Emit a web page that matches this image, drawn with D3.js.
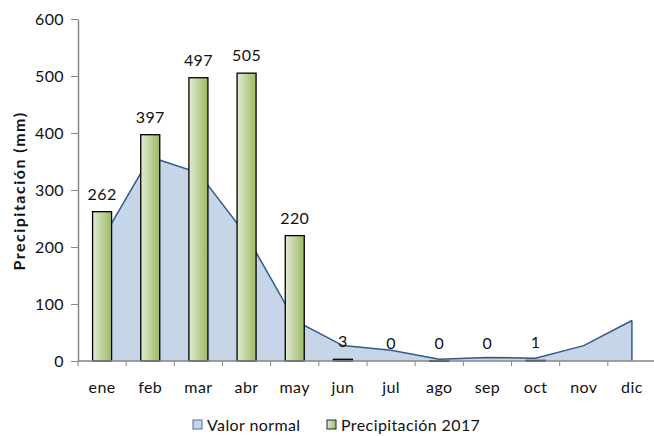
<!DOCTYPE html>
<html>
<head>
<meta charset="utf-8">
<script src="https://cdn.jsdelivr.net/npm/d3@7"></script>
<style>
  body { margin: 0; background: #fff; }
  svg text { font-family: Lato, "Open Sans", sans-serif; fill: #111; }
</style>
</head>
<body>
<div id="chart"></div>
<script>
// Data
const months = ["ene", "feb", "mar", "abr", "may", "jun", "jul", "ago", "sep", "oct", "nov", "dic"];
const normal = [213, 358, 330, 220, 71, 27, 19, 3, 6, 5, 27, 71];
const precip2017 = [262, 397, 497, 505, 220, 3, 0, 0.4, 0, 1, null, null];
const yTicks = [0, 100, 200, 300, 400, 500, 600];

const W = 654, H = 436;
const margin = { top: 19, right: 0, bottom: 75, left: 78 };

const svg = d3.select("#chart").append("svg")
    .attr("width", W)
    .attr("height", H);

const defs = svg.append("defs");
const grad = defs.append("linearGradient")
    .attr("id", "barGrad")
    .attr("x1", "0%").attr("x2", "100%")
    .attr("y1", "0%").attr("y2", "0%");
grad.append("stop").attr("offset", "0%").attr("stop-color", "#e2ebd4");
grad.append("stop").attr("offset", "100%").attr("stop-color", "#9cb964");

// Scales
const x = d3.scaleBand()
    .domain(months)
    .range([margin.left, 656])
    .padding(0);
const y = d3.scaleLinear()
    .domain([0, 600])
    .range([H - margin.bottom, margin.top]);

const cx = m => x(m) + x.bandwidth() / 2;
const barW = 19;
const fs = "16px";

// Normal values area
const area = d3.area()
    .x((d, i) => cx(months[i]))
    .y0(y(0))
    .y1(d => y(d));

svg.append("path")
    .datum(normal)
    .attr("d", area)
    .attr("fill", "#c6d6e8")
    .attr("stroke", "none");

const line = d3.line()
    .x((d, i) => cx(months[i]))
    .y(d => y(d));

svg.append("path")
    .datum(normal)
    .attr("d", line)
    .attr("fill", "none")
    .attr("stroke", "#31598c")
    .attr("stroke-width", 1.5);

// right edge of area
svg.append("line")
    .attr("x1", cx("dic")).attr("x2", cx("dic"))
    .attr("y1", y(normal[11])).attr("y2", y(0))
    .attr("stroke", "#31598c")
    .attr("stroke-width", 1.5);

// Bars
const barData = months.map((m, i) => ({ m, v: precip2017[i] })).filter(d => d.v !== null);

svg.selectAll(".bar")
    .data(barData.filter(d => d.v > 0))
    .enter().append("rect")
    .attr("class", "bar")
    .attr("x", d => cx(d.m) - barW / 2)
    .attr("y", d => y(d.v))
    .attr("width", barW)
    .attr("height", d => Math.max(0.6, y(0) - y(d.v)))
    .attr("fill", "url(#barGrad)")
    .attr("stroke", "#000")
    .attr("stroke-width", 1.3);

// Data labels
svg.selectAll(".lbl")
    .data(barData)
    .enter().append("text")
    .attr("class", "lbl")
    .attr("x", d => cx(d.m))
    .attr("y", d => y(d.v) - 12)
    .attr("text-anchor", "middle")
    .style("font-size", fs)
    .style("letter-spacing", "0.4px")
    .text(d => d3.format(".0f")(d.v));

// Axes
const axisColor = "#868686";
const xAxis = svg.append("g");
xAxis.append("line")
    .attr("x1", margin.left).attr("x2", W)
    .attr("y1", y(0)).attr("y2", y(0))
    .attr("stroke", axisColor).attr("stroke-width", 1.5);
xAxis.selectAll(".xt")
    .data(d3.range(months.length + 1))
    .enter().append("line")
    .attr("x1", i => margin.left + i * x.step())
    .attr("x2", i => margin.left + i * x.step())
    .attr("y1", y(0)).attr("y2", y(0) + 5)
    .attr("stroke", axisColor).attr("stroke-width", 1);
xAxis.selectAll(".xl")
    .data(months)
    .enter().append("text")
    .attr("x", d => cx(d))
    .attr("y", y(0) + 32)
    .attr("text-anchor", "middle")
    .style("font-size", fs)
    .style("letter-spacing", "0.4px")
    .text(d => d);

const yAxis = svg.append("g")
    .attr("transform", `translate(${margin.left},0)`)
    .call(d3.axisLeft(y).tickValues(yTicks).tickSize(7).tickPadding(7).tickSizeOuter(0));
yAxis.select(".domain").attr("stroke", axisColor).attr("stroke-width", 1.5);
yAxis.selectAll(".tick line").attr("stroke", axisColor);
yAxis.selectAll(".tick text")
    .style("font-size", fs)
    .style("letter-spacing", "0.4px")
    .style("font-family", "Lato, 'Open Sans', sans-serif")
    .attr("fill", "#111");

svg.append("text")
    .attr("transform", `translate(25, 191) rotate(-90)`)
    .attr("text-anchor", "middle")
    .style("font-size", "16px")
    .style("font-weight", "bold")
    .style("letter-spacing", "1.5px")
    .text("Precipitación (mm)");

// Legend
const legendData = [
    { label: "Valor normal", fill: "#c6d6e8", stroke: "#4a6fa0", x: 193 },
    { label: "Precipitación 2017", fill: "url(#barGrad)", stroke: "#222", x: 327 }
];
const legend = svg.append("g").attr("class", "legend");
legend.selectAll("rect")
    .data(legendData)
    .enter().append("rect")
    .attr("x", d => d.x)
    .attr("y", 420)
    .attr("width", 9)
    .attr("height", 9)
    .attr("fill", d => d.fill)
    .attr("stroke", d => d.stroke)
    .attr("stroke-width", 1);
legend.selectAll("text")
    .data(legendData)
    .enter().append("text")
    .attr("x", d => d.x + 14)
    .attr("y", 431)
    .style("font-size", fs)
    .style("letter-spacing", "0.4px")
    .text(d => d.label);
</script>
</body>
</html>
